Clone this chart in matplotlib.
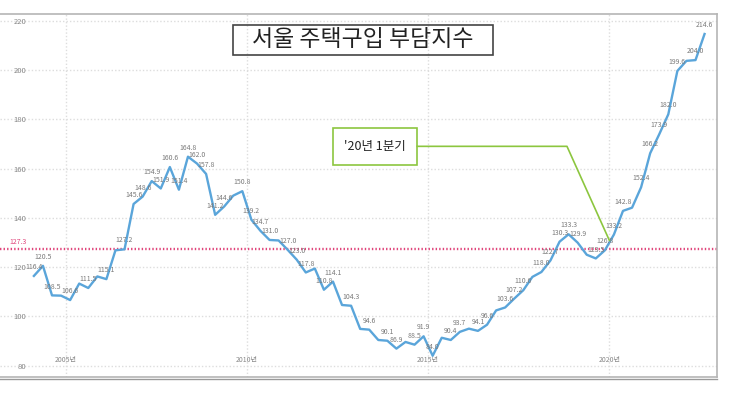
import matplotlib
matplotlib.use("Agg")
import matplotlib.pyplot as plt
from matplotlib.patches import Rectangle
from matplotlib.lines import Line2D

plt.rcParams['font.family'] = ['Noto Sans CJK KR', 'DejaVu Sans']

# Seoul housing purchase burden index, quarterly from 2004 Q1
start_year = 2004
values = [
    116.4, 120.5, 108.5, 108.4, 106.6, 113.3, 111.5, 116.2, 115.1, 126.8,
    127.2, 145.6, 148.6, 154.9, 151.9, 160.6, 151.4, 164.8, 162.0, 157.8,
    141.2, 144.6, 149.0, 150.8, 139.2, 134.7, 131.0, 130.8, 127.0, 123.0,
    117.8, 119.4, 110.8, 114.1, 104.6, 104.3, 94.9, 94.6, 90.4, 90.1,
    86.9, 89.6, 88.5, 91.9, 84.0, 91.3, 90.4, 93.7, 95.0, 94.1,
    96.6, 102.4, 103.6, 107.2, 110.6, 116.0, 118.0, 122.7, 130.3, 133.3,
    129.9, 125.0, 123.5, 126.8, 133.2, 142.8, 144.1, 152.4, 166.2, 173.9,
    182.0, 199.6, 203.7, 204.0, 214.6,
]
labeled = [0, 1, 2, 4, 6, 8, 10, 11, 12, 13, 14, 15, 16, 17, 18, 19, 20, 21,
           23, 24, 25, 26, 28, 29, 30, 32, 33, 35, 37, 39, 40, 42, 43, 44, 46,
           47, 49, 50, 52, 53, 54, 56, 57, 58, 59, 60, 62, 63, 64, 65, 67, 68,
           69, 70, 71, 73, 74]
average = 127.3
year_ticks = [2005, 2010, 2015, 2020]
year_labels = ['2005년', '2010년', '2015년', '2020년']
y_ticks = [80, 100, 120, 140, 160, 180, 200, 220]
title = '서울 주택구입 부담지수'
note = "'20년 1분기"
note_point = (2020.0, 130.8)

x = [start_year + (i + 0.5) / 4 for i in range(len(values))]

fig = plt.figure(figsize=(7.43, 4.01), dpi=100)
ax = fig.add_axes([0.0, 0.0606, 0.9646, 0.9044])

ax.plot(x, values, color='#5aa5da', lw=1.7, zorder=3)
ax.axhline(average, color='#e0457b', lw=1.7, ls=(0, (0.6, 0.9)), zorder=2)
ax.text(2003.45, average + 1.2, f'{average:.1f}', color='#e0457b', fontsize=5,
        va='bottom', ha='left')

for i in labeled:
    ax.annotate(f'{values[i]:.1f}', (x[i], values[i]), xytext=(0, 3.5),
                textcoords='offset points', ha='center', va='bottom',
                fontsize=5, color='#7a7a7a', zorder=4)

ax.set_xlim(2003.19, 2022.96)
ax.set_ylim(75.5, 222.7)
ax.set_xticks(year_ticks)
ax.set_xticklabels(year_labels)
ax.set_yticks(y_ticks)
ax.tick_params(axis='x', length=0, pad=-9, labelsize=5, labelcolor='#888888')
ax.tick_params(axis='y', length=0, pad=-19, labelsize=5.5, labelcolor='#888888')
for lab in ax.get_xticklabels():
    lab.set_va('bottom')
ax.grid(True, color='#dddddd', ls=(0, (1, 1.5)), lw=1)
ax.set_axisbelow(True)
for side in ['top', 'right', 'bottom']:
    ax.spines[side].set_color('#b5b5b5')
    ax.spines[side].set_linewidth(1.2)
ax.spines['left'].set_visible(False)

# title box
ax.add_patch(Rectangle((0.325, 0.887), 0.363, 0.083, transform=ax.transAxes,
                       fill=False, ec='#444444', lw=1.2, zorder=5))
ax.text(0.5066, 0.929, title, transform=ax.transAxes, ha='center', va='center',
        fontsize=16.5, color='#222222', zorder=5)

# callout box for 2020 Q1
ax.add_patch(Rectangle((2012.38, 161.3), 2.32, 15.0, fill=False, ec='#8cc63f',
                       lw=1.2, zorder=5))
ax.text(2013.54, 168.8, note, ha='center', va='center', fontsize=9,
        color='#222222', zorder=5)
ax.plot([2014.70, 2018.83, note_point[0]], [169.0, 169.0, note_point[1]],
        color='#8cc63f', lw=1.2, zorder=5)

fig.add_artist(Line2D([0, 0.9646], [0.054, 0.054], transform=fig.transFigure,
                      color='#9a9a9a', lw=1))

plt.savefig('out.png', dpi=100)
plt.close()
